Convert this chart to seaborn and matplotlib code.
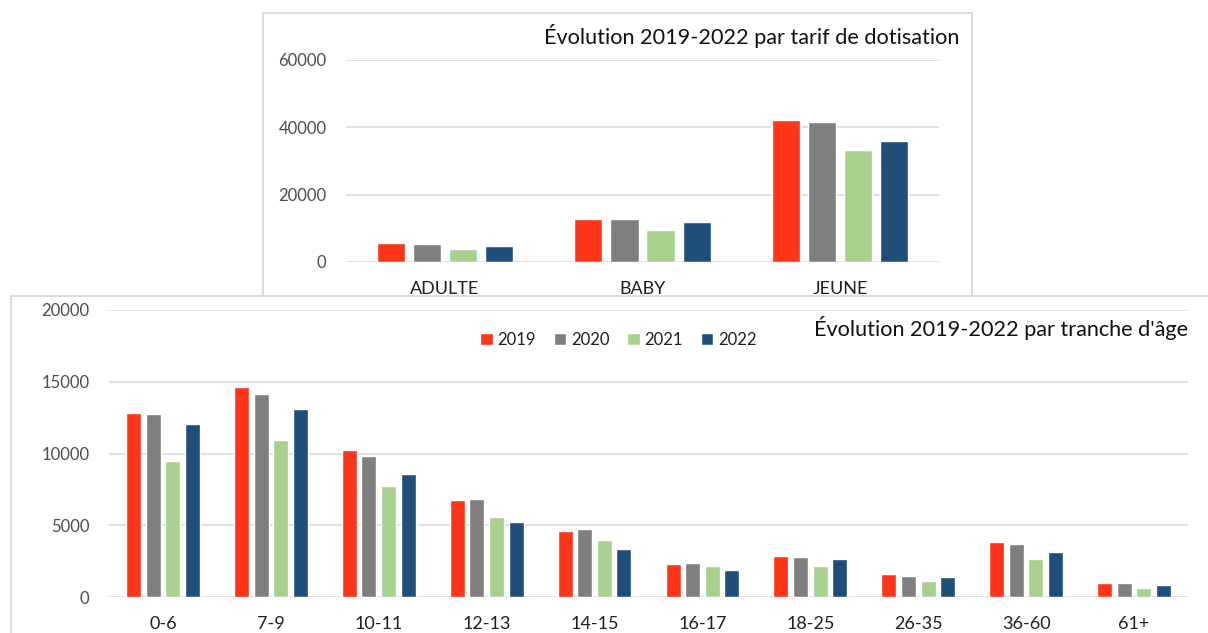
import matplotlib
matplotlib.use("Agg")
import matplotlib.pyplot as plt
import seaborn as sns
import pandas as pd
from matplotlib.patches import Rectangle

# ---------------- data ----------------
years = ["2019", "2020", "2021", "2022"]
colors = ["#FF3519", "#7F7F7F", "#A9D18E", "#1F4E79"]

tarif_categories = ["ADULTE", "BABY", "JEUNE"]
tarif_2019 = [5700, 12700, 41950]
tarif_2020 = [5400, 12700, 41600]
tarif_2021 = [3850, 9550, 33300]
tarif_2022 = [4750, 12000, 35750]

age_categories = ["0-6", "7-9", "10-11", "12-13", "14-15",
                  "16-17", "18-25", "26-35", "36-60", "61+"]
age_2019 = [12800, 14600, 10270, 6770, 4640, 2320, 2870, 1600, 3820, 970]
age_2020 = [12720, 14110, 9800, 6840, 4770, 2360, 2800, 1510, 3690, 1020]
age_2021 = [9480, 10940, 7740, 5590, 3960, 2180, 2180, 1110, 2670, 630]
age_2022 = [12050, 13090, 8600, 5240, 3360, 1900, 2670, 1410, 3150, 880]

title_top = "Évolution 2019-2022 par tarif de dotisation"
title_bottom = "Évolution 2019-2022 par tranche d'âge"


def long_df(cats, series):
    rows = []
    for y, vals in zip(years, series):
        for c, v in zip(cats, vals):
            rows.append({"cat": c, "val": v, "year": y})
    return pd.DataFrame(rows)


df_tarif = long_df(tarif_categories, [tarif_2019, tarif_2020, tarif_2021, tarif_2022])
df_age = long_df(age_categories, [age_2019, age_2020, age_2021, age_2022])

# ---------------- style ----------------
sns.set_style("white")
plt.rcParams["font.family"] = ["Lato", "DejaVu Sans"]

W, H = 1208, 633
fig = plt.figure(figsize=(W / 100, H / 100), dpi=100)
fig.patch.set_facecolor("white")


def rect_px(x0, ytop, x1, ybot):
    return [x0 / W, 1 - ybot / H, (x1 - x0) / W, (ybot - ytop) / H]


GRID = "#D9D9D9"
YTICK_C = "#4D4D4D"
XTICK_C = "#1F1F1F"


def style_axes(ax, ymax, ystep, ypad, xpad):
    ax.set_ylim(0, ymax)
    ax.set_yticks(list(range(0, ymax + 1, ystep)))
    ax.set_xlabel("")
    ax.set_ylabel("")
    for s in ax.spines.values():
        s.set_visible(False)
    ax.yaxis.grid(True, color=GRID, linewidth=1.1)
    ax.xaxis.grid(False)
    ax.set_axisbelow(True)
    ax.tick_params(axis="y", length=0, pad=ypad, labelsize=12, labelcolor=YTICK_C)
    ax.tick_params(axis="x", length=0, pad=xpad, labelsize=13, labelcolor=XTICK_C)
    ax.patch.set_alpha(0)


# ---------------- top chart ----------------
x0, y0, x1, y1 = 263, 13, 971.5, 300
frame1 = Rectangle((x0 / W, 1 - y1 / H), (x1 - x0) / W, (y1 - y0) / H,
                   transform=fig.transFigure, facecolor="white",
                   edgecolor=GRID, linewidth=1.3, zorder=0.5)
fig.add_artist(frame1)

ax1 = fig.add_axes(rect_px(346, 59.5, 939, 262), zorder=1)
sns.barplot(data=df_tarif, x="cat", y="val", hue="year", palette=colors,
            saturation=1, width=0.73, gap=0.22, errorbar=None,
            legend=False, ax=ax1)
style_axes(ax1, 60000, 20000, ypad=14, xpad=13.5)

fig.text(959 / W, 1 - 36 / H, title_top, ha="right", va="center",
         fontsize=15.6, color="#111111", zorder=10)

# ---------------- bottom chart ----------------
bx0, by0, bx1, by1 = 11, 296, 1220, 645
frame2 = Rectangle((bx0 / W, 1 - by1 / H), (bx1 - bx0) / W, (by1 - by0) / H,
                   transform=fig.transFigure, facecolor="white",
                   edgecolor=GRID, linewidth=1.3, zorder=2)
fig.add_artist(frame2)

ax2 = fig.add_axes(rect_px(109, 309.7, 1188, 597.3), zorder=3)
sns.barplot(data=df_age, x="cat", y="val", hue="year", palette=colors,
            saturation=1, width=0.727, gap=0.235, errorbar=None,
            legend=True, ax=ax2)
style_axes(ax2, 20000, 5000, ypad=14, xpad=13.5)

sns.move_legend(ax2, "center", bbox_to_anchor=(0.472, 0.895), ncol=4,
                frameon=False, title=None, handlelength=0.75,
                handleheight=0.75, handletextpad=0.3, columnspacing=1.05,
                fontsize=12, labelcolor=XTICK_C)

fig.text(1188 / W, 1 - 328 / H, title_bottom, ha="right", va="center",
         fontsize=15.6, color="#111111", zorder=10)

fig.savefig("out.png", dpi=100)
